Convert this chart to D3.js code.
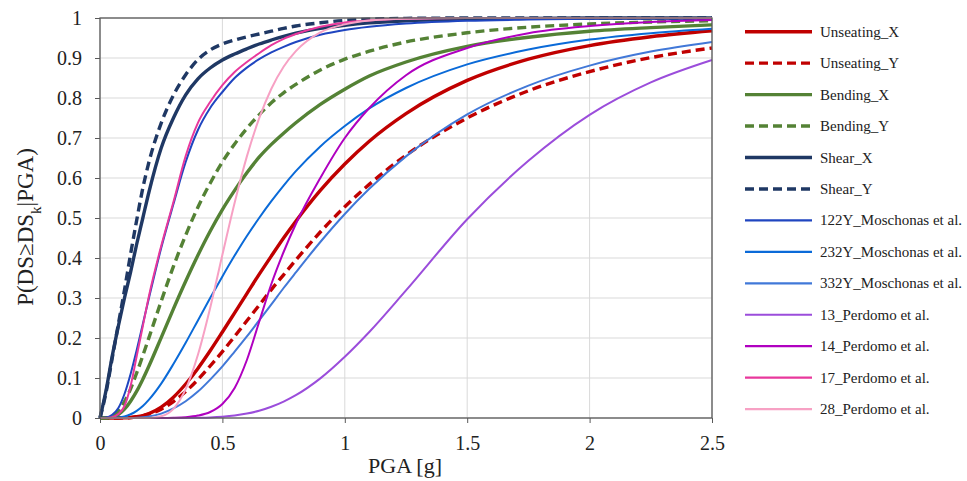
<!DOCTYPE html>
<meta charset="utf-8">
<style>
body { margin: 0; background: #fff; }
.grid line { stroke: #d9d9d9; stroke-width: 1; }
.axis line { stroke: #595959; }
.axis text { font-size: 20px; fill: #222; }
</style>
<body>
<div id="chart"></div>
<script src="https://cdn.jsdelivr.net/npm/d3@7"></script>
<script>
var serif = "'Liberation Serif', 'Times New Roman', serif";

// PGA sample points [g] read along the x axis
var pga = [0, 0.025, 0.05, 0.075, 0.1, 0.125, 0.15, 0.175, 0.2, 0.25, 0.3, 0.35, 0.4, 0.45, 0.5,
           0.55, 0.6, 0.65, 0.7, 0.75, 0.8, 0.9, 1.0, 1.1, 1.25, 1.5, 1.75, 2.0, 2.25, 2.5];

// probability of exceedance for each curve at the pga points
var unseatingX = [0, 0, 0, 0, 0.0003, 0.001, 0.003, 0.006, 0.011, 0.027, 0.052, 0.085, 0.124, 0.168, 0.215,
                  0.263, 0.311, 0.359, 0.405, 0.45, 0.492, 0.569, 0.635, 0.692, 0.761, 0.844, 0.897, 0.931, 0.953, 0.968];
var unseatingY = [0, 0, 0, 0, 0.0004, 0.0012, 0.003, 0.0055, 0.0095, 0.022, 0.041, 0.066, 0.096, 0.13, 0.166,
                  0.204, 0.243, 0.282, 0.321, 0.358, 0.395, 0.465, 0.528, 0.584, 0.657, 0.75, 0.818, 0.866, 0.901, 0.925];
var bendingX   = [0, 0.0001, 0.002, 0.0085, 0.022, 0.042, 0.067, 0.097, 0.13, 0.201, 0.273, 0.342, 0.407, 0.467, 0.521,
                  0.569, 0.613, 0.652, 0.684, 0.712, 0.738, 0.784, 0.822, 0.855, 0.89, 0.929, 0.952, 0.967, 0.976, 0.983];
var bendingY   = [0, 0.0002, 0.004, 0.017, 0.041, 0.073, 0.113, 0.156, 0.201, 0.292, 0.379, 0.457, 0.527, 0.587, 0.64,
                  0.685, 0.724, 0.758, 0.788, 0.813, 0.834, 0.87, 0.897, 0.917, 0.94, 0.963, 0.977, 0.985, 0.99, 0.993];
var shearX     = [0, 0.07, 0.155, 0.23, 0.3, 0.365, 0.435, 0.5, 0.565, 0.675, 0.75, 0.808, 0.848, 0.875, 0.895,
                  0.91, 0.923, 0.935, 0.945, 0.954, 0.962, 0.974, 0.982, 0.988, 0.993, 0.997, 0.999, 1, 1, 1];
var shearY     = [0, 0.065, 0.15, 0.235, 0.32, 0.41, 0.495, 0.575, 0.64, 0.737, 0.807, 0.858, 0.896, 0.92, 0.935,
                  0.945, 0.953, 0.96, 0.967, 0.974, 0.98, 0.988, 0.994, 0.997, 0.999, 1, 1, 1, 1, 1];
var m122Y      = [0, 0.001, 0.008, 0.025, 0.06, 0.11, 0.17, 0.235, 0.3, 0.425, 0.535, 0.64, 0.72, 0.775, 0.815,
                  0.85, 0.876, 0.897, 0.914, 0.928, 0.94, 0.958, 0.97, 0.978, 0.986, 0.993, 0.996, 0.998, 0.999, 0.999];
var m232Y      = [0, 0, 0.0001, 0.001, 0.0037, 0.0093, 0.018, 0.03, 0.046, 0.086, 0.135, 0.188, 0.244, 0.3, 0.354,
                  0.406, 0.455, 0.5, 0.542, 0.581, 0.617, 0.679, 0.73, 0.774, 0.825, 0.884, 0.921, 0.946, 0.962, 0.973];
var m332Y      = [0, 0, 0, 0, 0.0001, 0.0003, 0.0009, 0.002, 0.004, 0.011, 0.024, 0.042, 0.066, 0.096, 0.129,
                  0.166, 0.204, 0.244, 0.284, 0.325, 0.364, 0.44, 0.51, 0.573, 0.654, 0.759, 0.831, 0.881, 0.916, 0.94];
var p13        = [0, 0, 0, 0, 0, 0, 0, 0, 0, 0, 0, 0, 0.0005, 0.0013, 0.003,
                  0.006, 0.011, 0.018, 0.028, 0.041, 0.057, 0.099, 0.153, 0.215, 0.319, 0.497, 0.643, 0.758, 0.839, 0.895];
var p14        = [0, 0, 0, 0, 0, 0, 0, 0, 0, 0, 0.0005, 0.002, 0.006, 0.015, 0.035,
                  0.075, 0.145, 0.24, 0.335, 0.415, 0.485, 0.6, 0.7, 0.775, 0.857, 0.925, 0.962, 0.98, 0.99, 0.995];
var p17        = [0, 0, 0.002, 0.01, 0.03, 0.08, 0.155, 0.23, 0.305, 0.43, 0.54, 0.655, 0.738, 0.79, 0.832,
                  0.865, 0.89, 0.912, 0.932, 0.948, 0.96, 0.978, 0.989, 0.994, 0.998, 1, 1, 1, 1, 1];
var p28        = [0, 0, 0, 0, 0, 0, 0, 0, 0.0003, 0.0044, 0.023, 0.072, 0.158, 0.275, 0.408,
                  0.538, 0.654, 0.749, 0.823, 0.878, 0.917, 0.964, 0.984, 0.9935, 0.998, 1, 1, 1, 1, 1];

var names   = ["Unseating_X", "Unseating_Y", "Bending_X", "Bending_Y", "Shear_X", "Shear_Y",
               "122Y_Moschonas et al.", "232Y_Moschonas et al.", "332Y_Moschonas et al.",
               "13_Perdomo et al.", "14_Perdomo et al.", "17_Perdomo et al.", "28_Perdomo et al."];
var values  = [unseatingX, unseatingY, bendingX, bendingY, shearX, shearY,
               m122Y, m232Y, m332Y, p13, p14, p17, p28];
var colors  = ["#c00000", "#c00000", "#548235", "#548235", "#1f3864", "#1f3864",
               "#1f45c0", "#0a6ad8", "#4178d8", "#9b4ddb", "#b000c0", "#e8389c", "#f7a1c4"];
var dashed  = [false, true, false, true, false, true, false, false, false, false, false, false, false];
var thick   = [true, true, true, true, true, true, false, false, false, false, false, false, false];

var xTicks = [0, 0.5, 1, 1.5, 2, 2.5];
var yTicks = [0, 0.1, 0.2, 0.3, 0.4, 0.5, 0.6, 0.7, 0.8, 0.9, 1];

var W = 967, H = 481;
var margin = {top: 18, right: 255, bottom: 63, left: 100},
    width = W - margin.left - margin.right,
    height = H - margin.top - margin.bottom;

var svg = d3.select("#chart").append("svg")
    .attr("width", W)
    .attr("height", H)
    .attr("font-family", serif);

var g = svg.append("g")
    .attr("transform", "translate(" + margin.left + "," + margin.top + ")");

var x = d3.scaleLinear().domain([0, 2.5]).range([0, width]);
var y = d3.scaleLinear().domain([0, 1]).range([height, 0]);

// grid
g.append("g").attr("class", "grid")
  .selectAll("line").data(yTicks).enter().append("line")
    .attr("x1", 0).attr("x2", width)
    .attr("y1", function(d) { return y(d); }).attr("y2", function(d) { return y(d); });
g.append("g").attr("class", "grid")
  .selectAll("line").data(xTicks).enter().append("line")
    .attr("y1", 0).attr("y2", height)
    .attr("x1", function(d) { return x(d); }).attr("x2", function(d) { return x(d); });

// curves
var line = d3.line()
    .x(function(d) { return x(d[0]); })
    .y(function(d) { return y(d[1]); })
    .curve(d3.curveMonotoneX);

values.forEach(function(vals, i) {
  g.append("path")
    .datum(pga.map(function(p, j) { return [p, vals[j]]; }))
    .attr("fill", "none")
    .attr("stroke", colors[i])
    .attr("stroke-width", thick[i] ? 3.4 : 2)
    .attr("stroke-dasharray", dashed[i] ? "9,5" : null)
    .attr("d", line);
});

// frame
g.append("rect")
  .attr("width", width).attr("height", height)
  .attr("fill", "none").attr("stroke", "#595959").attr("stroke-width", 1.3);

// axes
g.append("g")
    .attr("class", "axis")
    .attr("transform", "translate(0," + height + ")")
    .call(d3.axisBottom(x).tickValues(xTicks).tickSize(5).tickPadding(13).tickFormat(d3.format("~g")))
    .attr("font-family", serif)
    .call(function(a) { a.select(".domain").remove(); });

g.append("g")
    .attr("class", "axis")
    .call(d3.axisLeft(y).tickValues(yTicks).tickSize(5).tickPadding(13).tickFormat(d3.format("~g")))
    .attr("font-family", serif)
    .call(function(a) { a.select(".domain").remove(); });

// axis titles
svg.append("text")
    .attr("x", margin.left + x(1.25) - 1)
    .attr("y", 473)
    .attr("text-anchor", "middle")
    .style("font-family", serif)
    .style("font-size", "22px")
    .style("fill", "#222")
    .text("PGA [g]");

var yt = svg.append("text")
    .attr("transform", "translate(33,227) rotate(-90)")
    .attr("text-anchor", "middle")
    .style("font-family", serif)
    .style("font-size", "23px")
    .style("fill", "#222");
yt.append("tspan").text("P(DS\u2265DS");
yt.append("tspan").attr("baseline-shift", "sub").style("font-size", "15px").text("k");
yt.append("tspan").text("|PGA)");

// legend
var legend = svg.append("g").attr("class", "legend");
names.forEach(function(n, i) {
  var ly = 31.7 + i * 31.45;
  legend.append("line")
    .attr("x1", 745).attr("x2", 812)
    .attr("y1", ly).attr("y2", ly)
    .attr("stroke", colors[i])
    .attr("stroke-width", thick[i] ? 3.4 : 2.2)
    .attr("stroke-dasharray", dashed[i] ? "9,5" : null);
  legend.append("text")
    .attr("x", 820).attr("y", ly + 5)
    .style("font-family", serif)
    .style("font-size", "15px")
    .style("fill", "#222")
    .text(n);
});
</script>
</body>
